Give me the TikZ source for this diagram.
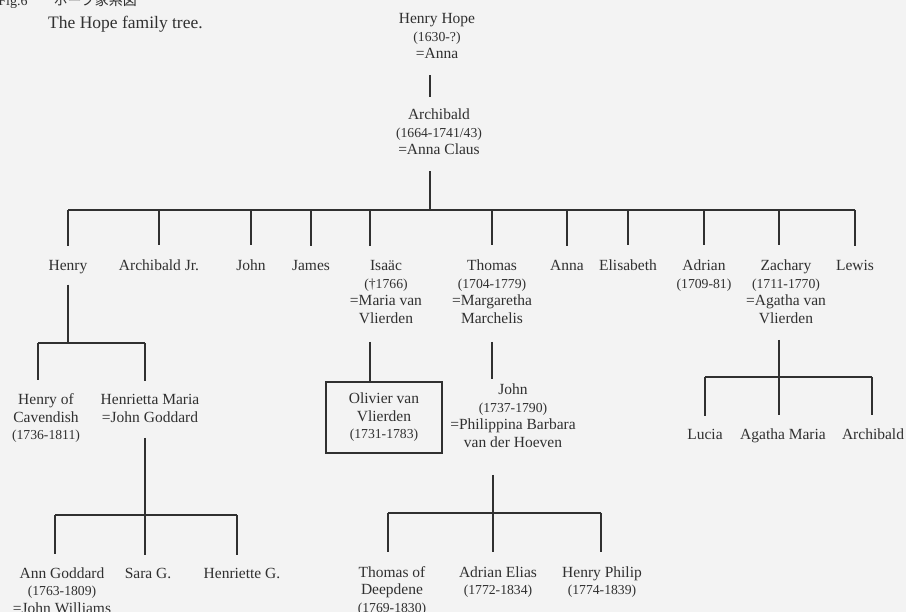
\documentclass[tikz,border=0pt]{standalone}
\usepackage{fontspec}
\setmainfont{Liberation Serif}
\newfontfamily\cjk{Noto Sans CJK JP}
\usepackage{xcolor}

\definecolor{ink}{HTML}{303030}
\definecolor{paper}{HTML}{F3F3F3}
\newcommand{\yr}[1]{{\fontsize{13.7}{17.5}\selectfont #1}}

\tikzset{
  person/.style={align=center, inner sep=0pt, anchor=base, text=ink,
    font=\fontsize{15.5}{17.5}\selectfont},
  branch/.style={draw=ink, line width=1.1pt},
  framed/.style={person, draw=ink, line width=1.2pt, anchor=center,
    minimum width=116pt, minimum height=71pt}
}

\begin{document}
\begin{tikzpicture}[x=1pt,y=-1pt]
  \useasboundingbox (0,0) rectangle (906,612);
  \fill[paper] (0,0) rectangle (906,612);

  % heading (base = last line of each node)
  \node[anchor=base east, inner sep=0pt, text=ink, font=\fontsize{14}{16}\selectfont] (fig) at (137,6) {Fig.6\hspace{26pt}{\cjk ホープ家系図}};
  \node[anchor=base west, inner sep=0pt, text=ink, font=\fontsize{17.5}{20}\selectfont] (title) at (48,29) {The Hope family tree.};

  % first generations
  \node[person] (hope) at (437,59) {Henry Hope\\\yr{(1630-?)}\\=Anna};
  \node[person] (archie) at (439,155) {Archibald\\\yr{(1664-1741/43)}\\=Anna Claus};

  % children of Archibald
  \node[person] (henry) at (68,271) {Henry};
  \node[person] (archjr) at (159,271) {Archibald Jr.};
  \node[person] (john) at (251,271) {John};
  \node[person] (james) at (311,271) {James};
  \node[person] (isaac) at (386,323.5) {Isaäc\\\yr{(†1766)}\\=Maria van\\Vlierden};
  \node[person] (thomas) at (492,323.5) {Thomas\\\yr{(1704-1779)}\\=Margaretha\\Marchelis};
  \node[person] (anna) at (567,271) {Anna};
  \node[person] (elis) at (628,271) {Elisabeth};
  \node[person] (adrian) at (704,288.5) {Adrian\\\yr{(1709-81)}};
  \node[person] (zachary) at (786,323.5) {Zachary\\\yr{(1711-1770)}\\=Agatha van\\Vlierden};
  \node[person] (lewis) at (855,271) {Lewis};

  % grandchildren
  \node[person] (henryc) at (46,440) {Henry of\\Cavendish\\\yr{(1736-1811)}};
  \node[person] (henrietta) at (150,422.5) {Henrietta Maria\\=John Goddard};
  \node[framed] (olivier) at (384,417.5) {Olivier van\\Vlierden\\\yr{(1731-1783)}};
  \node[person] (john2) at (513,447.5) {John\\\yr{(1737-1790)}\\=Philippina Barbara\\van der Hoeven};
  \node[person] (lucia) at (705,440) {Lucia};
  \node[person] (agatham) at (783,440) {Agatha Maria};
  \node[person] (archib2) at (873,440) {Archibald};

  % great-grandchildren
  \node[person] (ann) at (62,613) {Ann Goddard\\\yr{(1763-1809)}\\=John Williams};
  \node[person] (sara) at (148,578) {Sara G.};
  \node[person] (henriette) at (242,578) {Henriette G.};
  \node[person] (thomasd) at (392,612) {Thomas of\\Deepdene\\\yr{(1769-1830)}};
  \node[person] (adriane) at (498,594.5) {Adrian Elias\\\yr{(1772-1834)}};
  \node[person] (henryp) at (602,594.5) {Henry Philip\\\yr{(1774-1839)}};

  % Henry Hope -> Archibald -> children
  \coordinate (bar) at (430,210);
  \draw[branch, shorten <=16pt, shorten >=12pt] (hope.south -| bar) -- (archie.north -| bar);
  \draw[branch, shorten <=16pt] (archie.south -| bar) -- (bar);
  \draw[branch] (bar -| henry) -- (bar -| lewis);
  \foreach \k in {henry,archjr,john,james,thomas,anna,elis,adrian,lewis}
    \draw[branch, shorten >=15pt] (bar -| \k) -- (\k.north);
  \coordinate (isaacx) at (370,210);
  \coordinate (zachx) at (779,210);
  \draw[branch, shorten >=15pt] (isaacx) -- (isaacx |- isaac.north);
  \draw[branch, shorten >=15pt] (zachx) -- (zachx |- zachary.north);

  % Henry
  \coordinate (hbar) at (68,343);
  \coordinate (hcx) at (38,343);
  \coordinate (hmx) at (145,343);
  \draw[branch, shorten <=10pt] (henry.south) -- (hbar);
  \draw[branch] (hcx) -- (hmx);
  \draw[branch, shorten >=14pt] (hcx) -- (hcx |- henryc.north);
  \draw[branch, shorten >=14pt] (hmx) -- (hmx |- henrietta.north);

  % Henrietta Maria
  \coordinate (gbar) at (145,515);
  \coordinate (gl) at (55,515);
  \coordinate (gr) at (237,515);
  \draw[branch, shorten <=15pt] (henrietta.south -| gbar) -- (gbar);
  \draw[branch] (gl) -- (gr);
  \draw[branch, shorten >=13pt] (gl) -- (gl |- ann.north);
  \draw[branch, shorten >=13pt] (gbar) -- (gbar |- sara.north);
  \draw[branch, shorten >=13pt] (gr) -- (gr |- henriette.north);

  % Isaac and Thomas
  \draw[branch, shorten <=18pt] (isaacx |- isaac.south) -- (isaacx |- olivier.north);
  \draw[branch, shorten <=18pt, shorten >=5pt] (thomas.south) -- (thomas.south |- john2.north);

  % John
  \coordinate (jbar) at (493,513);
  \coordinate (jl) at (388,513);
  \coordinate (jr) at (601,513);
  \draw[branch, shorten <=27pt] (john2.south -| jbar) -- (jbar);
  \draw[branch] (jl) -- (jr);
  \draw[branch, shorten >=14pt] (jl) -- (jl |- thomasd.north);
  \draw[branch, shorten >=14pt] (jbar) -- (jbar |- adriane.north);
  \draw[branch, shorten >=14pt] (jr) -- (jr |- henryp.north);

  % Zachary
  \coordinate (zbar) at (779,377);
  \coordinate (zl) at (705,377);
  \coordinate (zr) at (872,377);
  \draw[branch, shorten <=16pt] (zachx |- zachary.south) -- (zbar);
  \draw[branch] (zl) -- (zr);
  \draw[branch, shorten >=14pt] (zl) -- (zl |- lucia.north);
  \draw[branch, shorten >=14pt] (zbar) -- (zbar |- agatham.north);
  \draw[branch, shorten >=14pt] (zr) -- (zr |- archib2.north);
\end{tikzpicture}
\end{document}
